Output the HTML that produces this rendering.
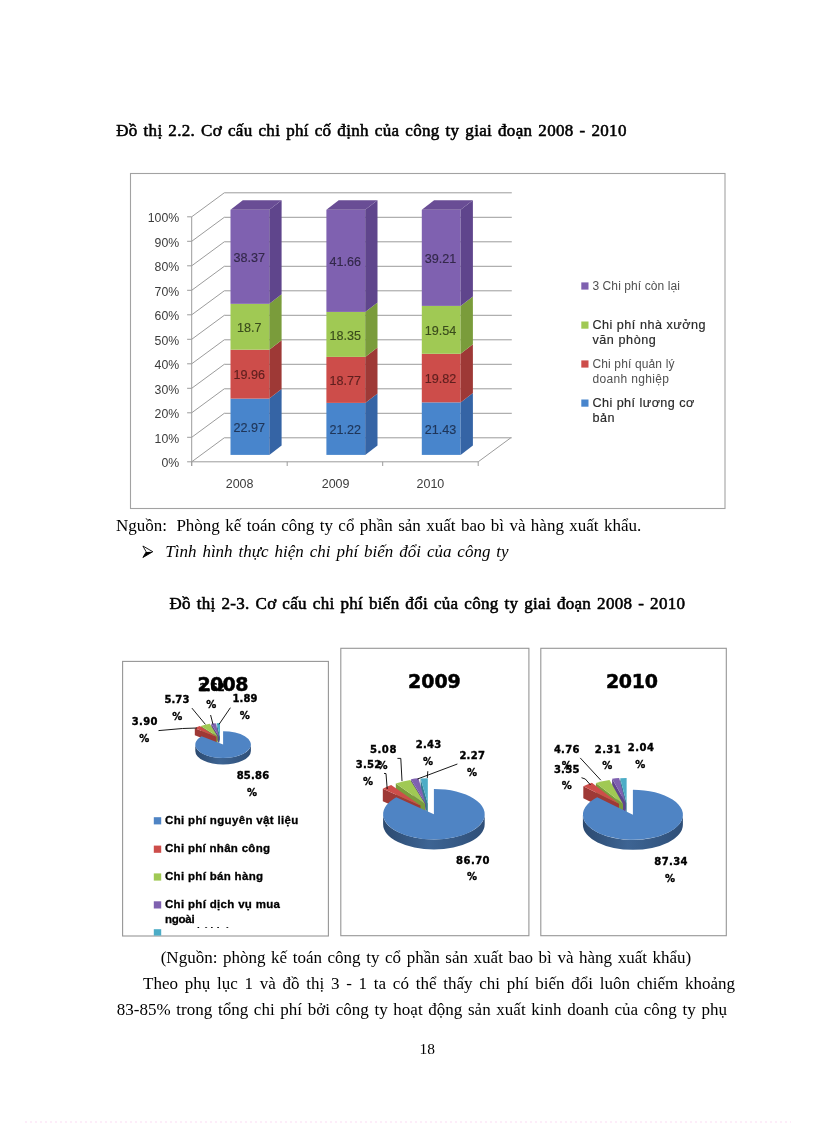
<!DOCTYPE html>
<html lang="vi">
<head>
<meta charset="utf-8">
<title>Trang 18</title>
<style>
html,body{margin:0;padding:0;background:#fff;}
body{width:816px;height:1123px;position:relative;overflow:hidden;font-family:'Liberation Serif',serif;}
.t{position:absolute;white-space:pre;margin:0;}
svg{position:absolute;left:0;top:0;}
</style>
</head>
<body>
<svg width="816" height="1123" viewBox="0 0 816 1123">
<rect x="130.5" y="173.5" width="594.5" height="335" fill="#fff" stroke="#a2a2a2" stroke-width="1.1"/>
<path d="M191.7 461.8 L224.3 437.8 H511.8" fill="none" stroke="#9c9c9c" stroke-width="1"/>
<path d="M191.7 437.3 L224.3 413.3 H511.8" fill="none" stroke="#9c9c9c" stroke-width="1"/>
<path d="M191.7 412.8 L224.3 388.8 H511.8" fill="none" stroke="#9c9c9c" stroke-width="1"/>
<path d="M191.7 388.3 L224.3 364.3 H511.8" fill="none" stroke="#9c9c9c" stroke-width="1"/>
<path d="M191.7 363.8 L224.3 339.8 H511.8" fill="none" stroke="#9c9c9c" stroke-width="1"/>
<path d="M191.7 339.3 L224.3 315.3 H511.8" fill="none" stroke="#9c9c9c" stroke-width="1"/>
<path d="M191.7 314.8 L224.3 290.8 H511.8" fill="none" stroke="#9c9c9c" stroke-width="1"/>
<path d="M191.7 290.3 L224.3 266.3 H511.8" fill="none" stroke="#9c9c9c" stroke-width="1"/>
<path d="M191.7 265.8 L224.3 241.8 H511.8" fill="none" stroke="#9c9c9c" stroke-width="1"/>
<path d="M191.7 241.3 L224.3 217.3 H511.8" fill="none" stroke="#9c9c9c" stroke-width="1"/>
<path d="M191.7 216.8 L224.3 192.8 H511.8" fill="none" stroke="#9c9c9c" stroke-width="1"/>
<path d="M191.7 216.8 V466.0" stroke="#9c9c9c" stroke-width="1" fill="none"/>
<path d="M191.7 461.8 H478.2 L510.8 437.8" fill="none" stroke="#9c9c9c" stroke-width="1"/>
<path d="M187.1 461.8 H191.7" stroke="#9c9c9c" stroke-width="1"/>
<text x="179.2" y="467.0" text-anchor="end" font-family="'Liberation Sans', sans-serif" font-size="12.3" fill="#3c3c3c">0%</text>
<path d="M187.1 437.3 H191.7" stroke="#9c9c9c" stroke-width="1"/>
<text x="179.2" y="442.5" text-anchor="end" font-family="'Liberation Sans', sans-serif" font-size="12.3" fill="#3c3c3c">10%</text>
<path d="M187.1 412.8 H191.7" stroke="#9c9c9c" stroke-width="1"/>
<text x="179.2" y="418.0" text-anchor="end" font-family="'Liberation Sans', sans-serif" font-size="12.3" fill="#3c3c3c">20%</text>
<path d="M187.1 388.3 H191.7" stroke="#9c9c9c" stroke-width="1"/>
<text x="179.2" y="393.5" text-anchor="end" font-family="'Liberation Sans', sans-serif" font-size="12.3" fill="#3c3c3c">30%</text>
<path d="M187.1 363.8 H191.7" stroke="#9c9c9c" stroke-width="1"/>
<text x="179.2" y="369.0" text-anchor="end" font-family="'Liberation Sans', sans-serif" font-size="12.3" fill="#3c3c3c">40%</text>
<path d="M187.1 339.3 H191.7" stroke="#9c9c9c" stroke-width="1"/>
<text x="179.2" y="344.5" text-anchor="end" font-family="'Liberation Sans', sans-serif" font-size="12.3" fill="#3c3c3c">50%</text>
<path d="M187.1 314.8 H191.7" stroke="#9c9c9c" stroke-width="1"/>
<text x="179.2" y="320.0" text-anchor="end" font-family="'Liberation Sans', sans-serif" font-size="12.3" fill="#3c3c3c">60%</text>
<path d="M187.1 290.3 H191.7" stroke="#9c9c9c" stroke-width="1"/>
<text x="179.2" y="295.5" text-anchor="end" font-family="'Liberation Sans', sans-serif" font-size="12.3" fill="#3c3c3c">70%</text>
<path d="M187.1 265.8 H191.7" stroke="#9c9c9c" stroke-width="1"/>
<text x="179.2" y="271.0" text-anchor="end" font-family="'Liberation Sans', sans-serif" font-size="12.3" fill="#3c3c3c">80%</text>
<path d="M187.1 241.3 H191.7" stroke="#9c9c9c" stroke-width="1"/>
<text x="179.2" y="246.5" text-anchor="end" font-family="'Liberation Sans', sans-serif" font-size="12.3" fill="#3c3c3c">90%</text>
<path d="M187.1 216.8 H191.7" stroke="#9c9c9c" stroke-width="1"/>
<text x="179.2" y="222.0" text-anchor="end" font-family="'Liberation Sans', sans-serif" font-size="12.3" fill="#3c3c3c">100%</text>
<path d="M191.7 461.8 v4.2" stroke="#9c9c9c" stroke-width="1"/>
<path d="M287.2 461.8 v4.2" stroke="#9c9c9c" stroke-width="1"/>
<path d="M382.7 461.8 v4.2" stroke="#9c9c9c" stroke-width="1"/>
<path d="M478.2 461.8 v4.2" stroke="#9c9c9c" stroke-width="1"/>
<rect x="230.5" y="398.60" width="38.8" height="56.30" fill="#4885cc"/>
<path d="M269.3 398.60 l12.3 -9.5 V445.40 L269.3 454.90 Z" fill="#3564a5"/>
<text x="249.3" y="432.1" text-anchor="middle" font-family="'Liberation Sans', sans-serif" font-size="12.6" fill="#1f3558" stroke="#1f3558" stroke-width="0.15">22.97</text>
<rect x="230.5" y="349.68" width="38.8" height="48.92" fill="#cd4d4a"/>
<path d="M269.3 349.68 l12.3 -9.5 V389.10 L269.3 398.60 Z" fill="#9e3936"/>
<text x="249.3" y="379.4" text-anchor="middle" font-family="'Liberation Sans', sans-serif" font-size="12.6" fill="#5e1f1e" stroke="#5e1f1e" stroke-width="0.15">19.96</text>
<rect x="230.5" y="303.84" width="38.8" height="45.83" fill="#a0c954"/>
<path d="M269.3 303.84 l12.3 -9.5 V340.18 L269.3 349.68 Z" fill="#7a9c3b"/>
<text x="249.3" y="332.1" text-anchor="middle" font-family="'Liberation Sans', sans-serif" font-size="12.6" fill="#3a4c1c" stroke="#3a4c1c" stroke-width="0.15">18.7</text>
<rect x="230.5" y="209.80" width="38.8" height="94.04" fill="#7f61b0"/>
<path d="M269.3 209.80 l12.3 -9.5 V294.34 L269.3 303.84 Z" fill="#5f458c"/>
<text x="249.3" y="262.1" text-anchor="middle" font-family="'Liberation Sans', sans-serif" font-size="12.6" fill="#33284a" stroke="#33284a" stroke-width="0.15">38.37</text>
<path d="M230.5 209.8 l12.3 -9.5 h38.8 l-12.3 9.5 Z" fill="#694d95"/>
<rect x="326.4" y="402.89" width="38.8" height="52.01" fill="#4885cc"/>
<path d="M365.2 402.89 l12.3 -9.5 V445.40 L365.2 454.90 Z" fill="#3564a5"/>
<text x="345.2" y="434.2" text-anchor="middle" font-family="'Liberation Sans', sans-serif" font-size="12.6" fill="#1f3558" stroke="#1f3558" stroke-width="0.15">21.22</text>
<rect x="326.4" y="356.88" width="38.8" height="46.01" fill="#cd4d4a"/>
<path d="M365.2 356.88 l12.3 -9.5 V393.39 L365.2 402.89 Z" fill="#9e3936"/>
<text x="345.2" y="385.2" text-anchor="middle" font-family="'Liberation Sans', sans-serif" font-size="12.6" fill="#5e1f1e" stroke="#5e1f1e" stroke-width="0.15">18.77</text>
<rect x="326.4" y="311.91" width="38.8" height="44.98" fill="#a0c954"/>
<path d="M365.2 311.91 l12.3 -9.5 V347.38 L365.2 356.88 Z" fill="#7a9c3b"/>
<text x="345.2" y="339.7" text-anchor="middle" font-family="'Liberation Sans', sans-serif" font-size="12.6" fill="#3a4c1c" stroke="#3a4c1c" stroke-width="0.15">18.35</text>
<rect x="326.4" y="209.80" width="38.8" height="102.11" fill="#7f61b0"/>
<path d="M365.2 209.80 l12.3 -9.5 V302.41 L365.2 311.91 Z" fill="#5f458c"/>
<text x="345.2" y="266.2" text-anchor="middle" font-family="'Liberation Sans', sans-serif" font-size="12.6" fill="#33284a" stroke="#33284a" stroke-width="0.15">41.66</text>
<path d="M326.4 209.8 l12.3 -9.5 h38.8 l-12.3 9.5 Z" fill="#694d95"/>
<rect x="421.8" y="402.38" width="38.8" height="52.52" fill="#4885cc"/>
<path d="M460.6 402.38 l12.3 -9.5 V445.40 L460.6 454.90 Z" fill="#3564a5"/>
<text x="440.6" y="433.9" text-anchor="middle" font-family="'Liberation Sans', sans-serif" font-size="12.6" fill="#1f3558" stroke="#1f3558" stroke-width="0.15">21.43</text>
<rect x="421.8" y="353.80" width="38.8" height="48.58" fill="#cd4d4a"/>
<path d="M460.6 353.80 l12.3 -9.5 V392.88 L460.6 402.38 Z" fill="#9e3936"/>
<text x="440.6" y="383.4" text-anchor="middle" font-family="'Liberation Sans', sans-serif" font-size="12.6" fill="#5e1f1e" stroke="#5e1f1e" stroke-width="0.15">19.82</text>
<rect x="421.8" y="305.90" width="38.8" height="47.89" fill="#a0c954"/>
<path d="M460.6 305.90 l12.3 -9.5 V344.30 L460.6 353.80 Z" fill="#7a9c3b"/>
<text x="440.6" y="335.1" text-anchor="middle" font-family="'Liberation Sans', sans-serif" font-size="12.6" fill="#3a4c1c" stroke="#3a4c1c" stroke-width="0.15">19.54</text>
<rect x="421.8" y="209.80" width="38.8" height="96.10" fill="#7f61b0"/>
<path d="M460.6 209.80 l12.3 -9.5 V296.40 L460.6 305.90 Z" fill="#5f458c"/>
<text x="440.6" y="263.2" text-anchor="middle" font-family="'Liberation Sans', sans-serif" font-size="12.6" fill="#33284a" stroke="#33284a" stroke-width="0.15">39.21</text>
<path d="M421.8 209.8 l12.3 -9.5 h38.8 l-12.3 9.5 Z" fill="#694d95"/>
<text x="239.6" y="488.3" text-anchor="middle" font-family="'Liberation Sans', sans-serif" font-size="12.5" fill="#3c3c3c">2008</text>
<text x="335.6" y="488.3" text-anchor="middle" font-family="'Liberation Sans', sans-serif" font-size="12.5" fill="#3c3c3c">2009</text>
<text x="430.4" y="488.3" text-anchor="middle" font-family="'Liberation Sans', sans-serif" font-size="12.5" fill="#3c3c3c">2010</text>
<rect x="581.3" y="282.4" width="7.2" height="7.2" fill="#7f61b0"/>
<rect x="581.3" y="321.5" width="7.2" height="7.2" fill="#a0c954"/>
<rect x="581.3" y="360.4" width="7.2" height="7.2" fill="#cd4d4a"/>
<rect x="581.3" y="399.5" width="7.2" height="7.2" fill="#4885cc"/>
<text x="592.4" y="290.0" font-family="'Liberation Sans', sans-serif" font-size="12" fill="#505050" letter-spacing="0.097">3 Chi phí còn lại</text>
<text x="592.4" y="329.2" font-family="'Liberation Sans', sans-serif" font-size="12.6" fill="#2a2a2a" letter-spacing="0.512" stroke="#2a2a2a" stroke-width="0.18">Chi phí nhà xưởng</text>
<text x="592.4" y="344.3" font-family="'Liberation Sans', sans-serif" font-size="12.6" fill="#2a2a2a" letter-spacing="0.572" stroke="#2a2a2a" stroke-width="0.18">văn phòng</text>
<text x="592.4" y="368.0" font-family="'Liberation Sans', sans-serif" font-size="12" fill="#505050" letter-spacing="0.146">Chi phí quản lý</text>
<text x="592.4" y="383.4" font-family="'Liberation Sans', sans-serif" font-size="12" fill="#505050" letter-spacing="0.351">doanh nghiệp</text>
<text x="592.4" y="407.4" font-family="'Liberation Sans', sans-serif" font-size="12.6" fill="#2a2a2a" letter-spacing="0.463" stroke="#2a2a2a" stroke-width="0.18">Chi phí lương cơ</text>
<text x="592.4" y="421.6" font-family="'Liberation Sans', sans-serif" font-size="12.6" fill="#2a2a2a" letter-spacing="0.594" stroke="#2a2a2a" stroke-width="0.18">bản</text>
<path d="M142.9 546.0 L152.8 551.7 L142.9 557.5 L146.2 551.9 Z" fill="none" stroke="#000" stroke-width="0.9" stroke-linejoin="miter"/>
<path d="M152.8 551.7 L142.9 557.5 L146.2 551.9 Z" fill="#000"/>
<rect x="122.6" y="661.4" width="205.8" height="274.6" fill="#fff" stroke="#969696" stroke-width="1.1"/>
<rect x="340.8" y="648.3" width="188.1" height="287.4" fill="#fff" stroke="#969696" stroke-width="1.1"/>
<rect x="540.8" y="648.3" width="185.5" height="287.4" fill="#fff" stroke="#969696" stroke-width="1.1"/>
<text x="197.5" y="691.0" font-family="'DejaVu Sans', 'Liberation Sans', sans-serif" font-weight="bold" font-size="19" letter-spacing="-0.660" fill="#000" stroke="#000" stroke-width="0.5">2008</text>
<path d="M220.00 736.50 L216.71 723.19 v7.0 L220.00 743.50 Z" fill="#357d91"/>
<path d="M220.00 736.50 L216.71 723.19 A27.8 13.4 0 0 1 220.00 723.10 Z" fill="#4cacc6"/>
<path d="M219.00 736.50 L211.23 723.63 v7.0 L219.00 743.50 Z" fill="#5f458c"/>
<path d="M219.00 736.50 L211.23 723.63 A27.8 13.4 0 0 1 215.71 723.19 Z" fill="#7f61b0"/>
<path d="M217.60 736.60 L200.92 725.88 v7.0 L217.60 743.60 Z" fill="#7a9c3b"/>
<path d="M217.60 736.60 L200.92 725.88 A27.8 13.4 0 0 1 209.83 723.73 Z" fill="#a0c954"/>
<path d="M216.40 736.70 L194.82 728.25 v7.0 L216.40 743.70 Z" fill="#9e3936"/>
<path d="M216.40 736.70 L194.82 728.25 A27.8 13.4 0 0 1 199.72 725.98 Z" fill="#cd4d4a"/>
<linearGradient id="bs1" x1="0" x2="1" y1="0" y2="0"><stop offset="0" stop-color="#2c4a70"/><stop offset="0.45" stop-color="#3d6493"/><stop offset="1" stop-color="#2f4f78"/></linearGradient>
<path d="M250.90 744.60 A27.8 13.4 0 0 1 195.30 744.60 v6.5 A27.8 13.4 0 0 0 250.90 751.10 Z" fill="url(#bs1)"/>
<path d="M223.10 744.60 L223.10 731.20 A27.8 13.4 0 1 1 201.52 736.15 Z" fill="#4f84c4"/>
<text x="199.6" y="690.6" font-family="'DejaVu Sans', 'Liberation Sans', sans-serif" font-weight="bold" font-size="10" letter-spacing="0.109" fill="#000" stroke="#000" stroke-width="0.35">2.62</text>
<text x="211.2" y="707.6" text-anchor="middle" font-family="'DejaVu Sans', 'Liberation Sans', sans-serif" font-weight="bold" font-size="10" fill="#000" stroke="#000" stroke-width="0.35">%</text>
<text x="164.4" y="703.0" font-family="'DejaVu Sans', 'Liberation Sans', sans-serif" font-weight="bold" font-size="10" letter-spacing="0.109" fill="#000" stroke="#000" stroke-width="0.35">5.73</text>
<text x="177.2" y="719.6" text-anchor="middle" font-family="'DejaVu Sans', 'Liberation Sans', sans-serif" font-weight="bold" font-size="10" fill="#000" stroke="#000" stroke-width="0.35">%</text>
<text x="232.5" y="702.4" font-family="'DejaVu Sans', 'Liberation Sans', sans-serif" font-weight="bold" font-size="10" letter-spacing="0.109" fill="#000" stroke="#000" stroke-width="0.35">1.89</text>
<text x="244.7" y="718.6" text-anchor="middle" font-family="'DejaVu Sans', 'Liberation Sans', sans-serif" font-weight="bold" font-size="10" fill="#000" stroke="#000" stroke-width="0.35">%</text>
<text x="131.8" y="724.8" font-family="'DejaVu Sans', 'Liberation Sans', sans-serif" font-weight="bold" font-size="10" letter-spacing="0.342" fill="#000" stroke="#000" stroke-width="0.35">3.90</text>
<text x="144.2" y="741.7" text-anchor="middle" font-family="'DejaVu Sans', 'Liberation Sans', sans-serif" font-weight="bold" font-size="10" fill="#000" stroke="#000" stroke-width="0.35">%</text>
<text x="236.7" y="778.6" font-family="'DejaVu Sans', 'Liberation Sans', sans-serif" font-weight="bold" font-size="10" letter-spacing="0.217" fill="#000" stroke="#000" stroke-width="0.35">85.86</text>
<text x="252.0" y="795.6" text-anchor="middle" font-family="'DejaVu Sans', 'Liberation Sans', sans-serif" font-weight="bold" font-size="10" fill="#000" stroke="#000" stroke-width="0.35">%</text>
<path d="M191.9 708.1 L205.4 724.4" fill="none" stroke="#000" stroke-width="0.9"/>
<path d="M158.5 730.6 L182.5 728.5 L197.0 728.0" fill="none" stroke="#000" stroke-width="0.9"/>
<path d="M210.6 715.0 L213.0 724.4" fill="none" stroke="#000" stroke-width="0.9"/>
<path d="M230.4 707.7 L219.0 724.4" fill="none" stroke="#000" stroke-width="0.9"/>
<rect x="153.8" y="817.2" width="7.4" height="7.2" fill="#4f84c4"/>
<rect x="153.8" y="845.6" width="7.4" height="7.2" fill="#cd4d4a"/>
<rect x="153.8" y="873.4" width="7.4" height="7.2" fill="#a0c954"/>
<rect x="153.8" y="901.3" width="7.4" height="7.2" fill="#7f61b0"/>
<rect x="153.8" y="929.2" width="7.4" height="6.4" fill="#4cacc6"/>
<text x="165.0" y="823.9" font-family="'Liberation Sans', sans-serif" font-weight="bold" font-size="11.5" letter-spacing="0.338" fill="#000" stroke="#000" stroke-width="0.3">Chi phí nguyên vật liệu</text>
<text x="165.0" y="852.1" font-family="'Liberation Sans', sans-serif" font-weight="bold" font-size="11.5" letter-spacing="0.294" fill="#000" stroke="#000" stroke-width="0.3">Chi phí nhân công</text>
<text x="165.0" y="879.7" font-family="'Liberation Sans', sans-serif" font-weight="bold" font-size="11.5" letter-spacing="0.315" fill="#000" stroke="#000" stroke-width="0.3">Chi phí bán hàng</text>
<text x="165.0" y="908.4" font-family="'Liberation Sans', sans-serif" font-weight="bold" font-size="11.5" letter-spacing="0.319" fill="#000" stroke="#000" stroke-width="0.3">Chi phí dịch vụ mua</text>
<text x="165.0" y="923.3" font-family="'Liberation Sans', sans-serif" font-weight="bold" font-size="11.5" letter-spacing="-0.266" fill="#000" stroke="#000" stroke-width="0.3">ngoài</text>
<clipPath id="c5"><rect x="194.5" y="920" width="120" height="8.1"/></clipPath>
<g clip-path="url(#c5)"><text x="168.0" y="935.4" font-family="'Liberation Sans', sans-serif" font-weight="bold" font-size="11.5" fill="#000">Chi phí khác</text></g>
<text x="408.0" y="687.7" font-family="'DejaVu Sans', 'Liberation Sans', sans-serif" font-weight="bold" font-size="19" letter-spacing="-0.027" fill="#000" stroke="#000" stroke-width="0.5">2009</text>
<path d="M427.80 803.50 L420.58 778.46 v12.5 L427.80 816.00 Z" fill="#357d91"/>
<path d="M427.80 803.50 L420.58 778.46 A50.8 25.3 0 0 1 427.80 778.20 Z" fill="#4cacc6"/>
<path d="M425.70 803.40 L410.92 779.20 v12.5 L425.70 815.90 Z" fill="#5f458c"/>
<path d="M425.70 803.40 L410.92 779.20 A50.8 25.3 0 0 1 418.48 778.36 Z" fill="#7f61b0"/>
<path d="M425.10 804.10 L395.81 783.43 v12.5 L425.10 816.60 Z" fill="#7a9c3b"/>
<path d="M425.10 804.10 L395.81 783.43 A50.8 25.3 0 0 1 410.32 779.90 Z" fill="#a0c954"/>
<path d="M420.50 805.60 L382.82 788.63 v12.5 L420.50 818.10 Z" fill="#9e3936"/>
<path d="M420.50 805.60 L382.82 788.63 A50.8 25.3 0 0 1 391.21 784.93 Z" fill="#cd4d4a"/>
<linearGradient id="bs2" x1="0" x2="1" y1="0" y2="0"><stop offset="0" stop-color="#2c4a70"/><stop offset="0.45" stop-color="#3d6493"/><stop offset="1" stop-color="#2f4f78"/></linearGradient>
<path d="M484.70 814.20 A50.8 25.3 0 0 1 383.10 814.20 v10.0 A50.8 25.3 0 0 0 484.70 824.20 Z" fill="url(#bs2)"/>
<path d="M433.90 814.20 L433.90 788.90 A50.8 25.3 0 1 1 396.22 797.23 Z" fill="#4f84c4"/>
<text x="369.9" y="752.8" font-family="'DejaVu Sans', 'Liberation Sans', sans-serif" font-weight="bold" font-size="10" letter-spacing="0.609" fill="#000" stroke="#000" stroke-width="0.35">5.08</text>
<text x="382.6" y="769.2" text-anchor="middle" font-family="'DejaVu Sans', 'Liberation Sans', sans-serif" font-weight="bold" font-size="10" fill="#000" stroke="#000" stroke-width="0.35">%</text>
<text x="355.7" y="768.3" font-family="'DejaVu Sans', 'Liberation Sans', sans-serif" font-weight="bold" font-size="10" letter-spacing="0.276" fill="#000" stroke="#000" stroke-width="0.35">3.52</text>
<text x="368.0" y="784.6" text-anchor="middle" font-family="'DejaVu Sans', 'Liberation Sans', sans-serif" font-weight="bold" font-size="10" fill="#000" stroke="#000" stroke-width="0.35">%</text>
<text x="415.7" y="748.2" font-family="'DejaVu Sans', 'Liberation Sans', sans-serif" font-weight="bold" font-size="10" letter-spacing="0.276" fill="#000" stroke="#000" stroke-width="0.35">2.43</text>
<text x="427.9" y="764.5" text-anchor="middle" font-family="'DejaVu Sans', 'Liberation Sans', sans-serif" font-weight="bold" font-size="10" fill="#000" stroke="#000" stroke-width="0.35">%</text>
<text x="459.4" y="759.0" font-family="'DejaVu Sans', 'Liberation Sans', sans-serif" font-weight="bold" font-size="10" letter-spacing="0.276" fill="#000" stroke="#000" stroke-width="0.35">2.27</text>
<text x="471.9" y="775.9" text-anchor="middle" font-family="'DejaVu Sans', 'Liberation Sans', sans-serif" font-weight="bold" font-size="10" fill="#000" stroke="#000" stroke-width="0.35">%</text>
<text x="456.1" y="863.7" font-family="'DejaVu Sans', 'Liberation Sans', sans-serif" font-weight="bold" font-size="10" letter-spacing="0.442" fill="#000" stroke="#000" stroke-width="0.35">86.70</text>
<text x="471.9" y="880.4" text-anchor="middle" font-family="'DejaVu Sans', 'Liberation Sans', sans-serif" font-weight="bold" font-size="10" fill="#000" stroke="#000" stroke-width="0.35">%</text>
<path d="M384.0 773.4 L386.0 773.6 L387.2 789.0" fill="none" stroke="#000" stroke-width="0.9"/>
<path d="M397.4 758.4 L400.8 758.4 L402.0 781.0" fill="none" stroke="#000" stroke-width="0.9"/>
<path d="M427.8 771.2 L427.3 778.0" fill="none" stroke="#000" stroke-width="0.9"/>
<path d="M457.4 764.0 L417.5 779.0" fill="none" stroke="#000" stroke-width="0.9"/>
<text x="605.9" y="687.7" font-family="'DejaVu Sans', 'Liberation Sans', sans-serif" font-weight="bold" font-size="19" letter-spacing="-0.260" fill="#000" stroke="#000" stroke-width="0.5">2010</text>
<path d="M626.60 803.10 L620.21 778.31 v12.0 L626.60 815.10 Z" fill="#357d91"/>
<path d="M626.60 803.10 L620.21 778.31 A50.0 25.0 0 0 1 626.60 778.10 Z" fill="#4cacc6"/>
<path d="M625.60 802.80 L612.10 778.73 v12.0 L625.60 814.80 Z" fill="#5f458c"/>
<path d="M625.60 802.80 L612.10 778.73 A50.0 25.0 0 0 1 619.21 778.01 Z" fill="#7f61b0"/>
<path d="M623.00 804.00 L595.92 782.98 v12.0 L623.00 816.00 Z" fill="#7a9c3b"/>
<path d="M623.00 804.00 L595.92 782.98 A50.0 25.0 0 0 1 609.50 779.93 Z" fill="#a0c954"/>
<path d="M619.00 803.70 L583.29 786.20 v12.0 L619.00 815.70 Z" fill="#9e3936"/>
<path d="M619.00 803.70 L583.29 786.20 A50.0 25.0 0 0 1 591.92 782.68 Z" fill="#cd4d4a"/>
<linearGradient id="bs3" x1="0" x2="1" y1="0" y2="0"><stop offset="0" stop-color="#2c4a70"/><stop offset="0.45" stop-color="#3d6493"/><stop offset="1" stop-color="#2f4f78"/></linearGradient>
<path d="M682.90 814.80 A50.0 25.0 0 0 1 582.90 814.80 v10.0 A50.0 25.0 0 0 0 682.90 824.80 Z" fill="url(#bs3)"/>
<path d="M632.90 814.80 L632.90 789.80 A50.0 25.0 0 1 1 597.19 797.30 Z" fill="#4f84c4"/>
<text x="553.9" y="752.8" font-family="'DejaVu Sans', 'Liberation Sans', sans-serif" font-weight="bold" font-size="10" letter-spacing="0.276" fill="#000" stroke="#000" stroke-width="0.35">4.76</text>
<text x="566.7" y="769.4" text-anchor="middle" font-family="'DejaVu Sans', 'Liberation Sans', sans-serif" font-weight="bold" font-size="10" fill="#000" stroke="#000" stroke-width="0.35">%</text>
<text x="553.9" y="772.6" font-family="'DejaVu Sans', 'Liberation Sans', sans-serif" font-weight="bold" font-size="10" letter-spacing="0.276" fill="#000" stroke="#000" stroke-width="0.35">3.55</text>
<text x="566.7" y="789.3" text-anchor="middle" font-family="'DejaVu Sans', 'Liberation Sans', sans-serif" font-weight="bold" font-size="10" fill="#000" stroke="#000" stroke-width="0.35">%</text>
<text x="594.8" y="752.8" font-family="'DejaVu Sans', 'Liberation Sans', sans-serif" font-weight="bold" font-size="10" letter-spacing="0.376" fill="#000" stroke="#000" stroke-width="0.35">2.31</text>
<text x="607.2" y="769.4" text-anchor="middle" font-family="'DejaVu Sans', 'Liberation Sans', sans-serif" font-weight="bold" font-size="10" fill="#000" stroke="#000" stroke-width="0.35">%</text>
<text x="627.8" y="750.8" font-family="'DejaVu Sans', 'Liberation Sans', sans-serif" font-weight="bold" font-size="10" letter-spacing="0.509" fill="#000" stroke="#000" stroke-width="0.35">2.04</text>
<text x="640.2" y="767.9" text-anchor="middle" font-family="'DejaVu Sans', 'Liberation Sans', sans-serif" font-weight="bold" font-size="10" fill="#000" stroke="#000" stroke-width="0.35">%</text>
<text x="654.3" y="864.5" font-family="'DejaVu Sans', 'Liberation Sans', sans-serif" font-weight="bold" font-size="10" letter-spacing="0.392" fill="#000" stroke="#000" stroke-width="0.35">87.34</text>
<text x="669.9" y="881.6" text-anchor="middle" font-family="'DejaVu Sans', 'Liberation Sans', sans-serif" font-weight="bold" font-size="10" fill="#000" stroke="#000" stroke-width="0.35">%</text>
<path d="M580.2 757.9 L600.8 780.2" fill="none" stroke="#000" stroke-width="0.9"/>
<path d="M581.5 777.7 L585.3 779.0 L590.5 785.0" fill="none" stroke="#000" stroke-width="0.9"/>
<path d="M25.5 1122 H791" stroke="#f7b6e6" stroke-width="1" stroke-dasharray="1 4" fill="none"/>
<text x="116.20" y="135.90" font-family="'Liberation Serif', serif" font-size="17" font-weight="normal" font-style="normal" fill="#000" stroke="#000" stroke-width="0.55" style="white-space:pre;letter-spacing:0.323px;word-spacing:1.351px;">Đồ thị 2.2. Cơ cấu chi phí cố định của công ty giai đoạn 2008 - 2010</text>
<text x="116.00" y="531.00" font-family="'Liberation Serif', serif" font-size="17" font-weight="normal" font-style="normal" fill="#000" style="white-space:pre;word-spacing:1.131px;">Nguồn: <tspan dx="4.0">Phòng kế toán công ty cổ phần sản xuất bao bì và hàng xuất khẩu.</tspan></text>
<text x="165.30" y="557.00" font-family="'Liberation Serif', serif" font-size="17" font-weight="normal" font-style="italic" fill="#000" style="white-space:pre;word-spacing:1.675px;">Tình hình thực hiện chi phí biến đổi của công ty</text>
<text x="169.40" y="608.80" font-family="'Liberation Serif', serif" font-size="17" font-weight="normal" font-style="normal" fill="#000" stroke="#000" stroke-width="0.55" style="white-space:pre;letter-spacing:0.313px;word-spacing:1.328px;">Đồ thị 2-3. Cơ cấu chi phí biến đổi của công ty giai đoạn 2008 - 2010</text>
<text x="160.70" y="963.20" font-family="'Liberation Serif', serif" font-size="17" font-weight="normal" font-style="normal" fill="#000" style="white-space:pre;word-spacing:1.350px;">(Nguồn: phòng kế toán công ty cổ phần sản xuất bao bì và hàng xuất khẩu)</text>
<text x="143.00" y="989.00" font-family="'Liberation Serif', serif" font-size="17" font-weight="normal" font-style="normal" fill="#000" style="white-space:pre;word-spacing:2.500px;">Theo phụ lục 1 và đồ thị 3 - 1 ta có thể thấy chi phí biến đổi luôn chiếm khoảng</text>
<text x="116.80" y="1015.00" font-family="'Liberation Serif', serif" font-size="17" font-weight="normal" font-style="normal" fill="#000" style="white-space:pre;word-spacing:1.454px;">83-85% trong tổng chi phí bởi công ty hoạt động sản xuất kinh doanh của công ty phụ</text>
<text x="419.50" y="1054.00" font-family="'Liberation Serif', serif" font-size="15.4" font-weight="normal" font-style="normal" fill="#000" style="white-space:pre;letter-spacing:0.109px;">18</text>
</svg>
</body>
</html>
